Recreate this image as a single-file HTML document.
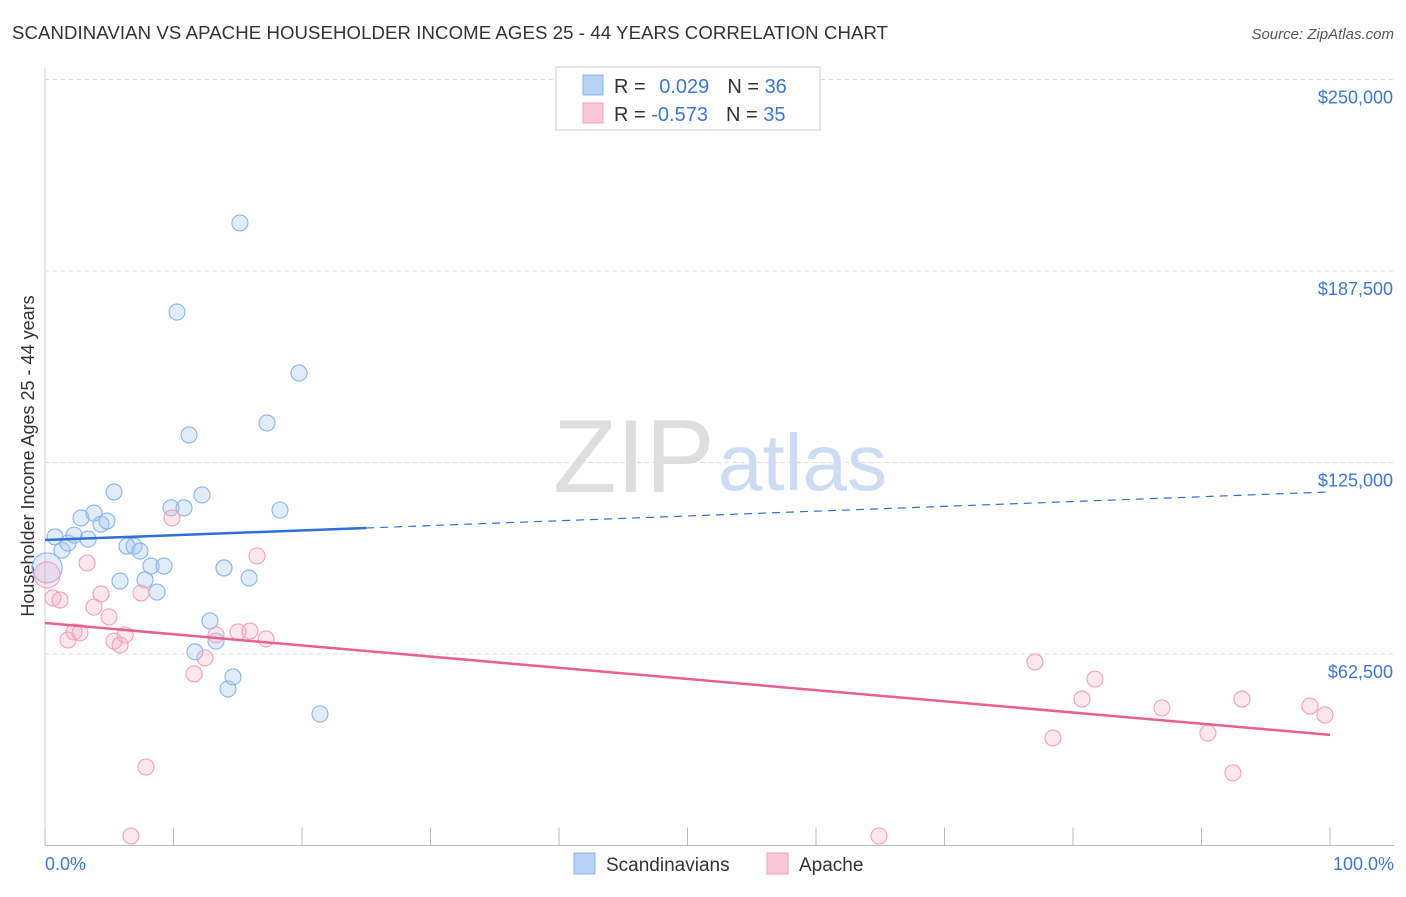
<!DOCTYPE html>
<html><head><meta charset="utf-8"><style>
body{margin:0;background:#fff;font-family:"Liberation Sans",sans-serif;}
svg text{font-family:"Liberation Sans",sans-serif;}
</style></head><body>
<svg id="chart" width="1406" height="892">
<text x="12" y="39" font-size="18.6" fill="#333" textLength="876">SCANDINAVIAN VS APACHE HOUSEHOLDER INCOME AGES 25 - 44 YEARS CORRELATION CHART</text>
<text x="1394" y="39" font-size="15" fill="#555" font-style="italic" text-anchor="end">Source: ZipAtlas.com</text>
<g id="grid"></g>
<text x="553" y="492" font-size="104" fill="#dedede" font-family="Liberation Serif">ZIP</text>
<text x="718" y="490" font-size="80" fill="#cddcf2">atlas</text>
<text transform="translate(34,456) rotate(-90)" font-size="18" fill="#333" text-anchor="middle">Householder Income Ages 25 - 44 years</text>
<text x="45" y="870" font-size="18" fill="#3a78d8">0.0%</text>
<text x="1394" y="870" font-size="18" fill="#3a78d8" text-anchor="end">100.0%</text>
<g id="marks"></g>
<g>
<rect x="556" y="67" width="264" height="63" fill="#fff" stroke="#ccc"/>
<rect x="583" y="75" width="20" height="20" fill="#b8d2f5" stroke="#8ab4e8"/>
<rect x="583" y="103" width="20" height="20" fill="#f9c8d8" stroke="#f0a0bc"/>
<text x="614" y="93" font-size="20" fill="#333">R = <tspan fill="#3a78d8" dx="8">0.029</tspan><tspan dx="18" fill="#333">N = </tspan><tspan fill="#3a78d8">36</tspan></text>
<text x="614" y="121" font-size="20" fill="#333">R = <tspan fill="#3a78d8">-0.573</tspan><tspan dx="18" fill="#333">N = </tspan><tspan fill="#3a78d8">35</tspan></text>
</g>
<g>
<rect x="574" y="853" width="21" height="21" fill="#b8d2f5" stroke="#8ab4e8"/>
<text x="606" y="871" font-size="19" fill="#333">Scandinavians</text>
<rect x="767" y="853" width="21" height="21" fill="#f9c8d8" stroke="#f0a0bc"/>
<text x="799" y="871" font-size="19" fill="#333">Apache</text>
</g>
</svg>
<script>
const yTicks=[62.5,125,187.5,250];
const yTickLabels=["$62,500","$125,000","$187,500","$250,000"];
const xTicks=[0,10,20,30,40,50,60,70,80,90,100];
const blueX=[0.16,0.78,1.32,1.79,2.26,2.80,3.35,3.81,4.36,4.82,5.37,5.84,6.38,6.93,7.39,7.78,8.25,8.72,9.26,9.81,10.27,10.82,11.21,12.22,11.67,12.84,13.31,13.93,14.24,14.63,15.17,15.88,17.28,18.29,19.77,21.40];
const blueY=[90.6,100.7,96.4,98.7,101.3,106.9,100.0,108.5,104.9,105.9,115.4,86.3,97.7,97.7,96.1,86.7,91.2,82.7,91.2,110.2,174.1,110.2,134.0,114.4,63.2,73.3,66.7,90.6,51.1,55.0,203.2,87.3,137.9,109.5,154.2,42.9];
const pinkX=[0.16,0.62,1.17,1.79,2.26,2.72,3.27,3.81,4.36,4.98,5.37,5.84,6.23,6.69,7.47,7.86,9.88,11.60,12.45,13.31,15.02,15.95,16.50,17.20,64.90,77.04,78.44,80.70,81.71,86.92,90.50,92.45,93.15,98.44,99.61];
const pinkY=[88.3,80.8,80.1,67.1,69.7,69.4,92.2,77.8,82.1,74.6,66.7,65.4,68.7,3.1,82.4,25.6,106.9,56.0,61.2,68.7,69.7,70.0,94.5,67.4,3.1,59.9,35.1,47.8,54.3,44.9,36.7,23.7,47.8,45.5,42.6];
const blueTrend=[99.7,115.4];
const pinkTrend=[72.6,36.1];
const sx=v=>45+v*12.85;
const sy=v=>845.5-v*3.064;
const NS="http://www.w3.org/2000/svg";
function mk(tag,attrs,parent){const e=document.createElementNS(NS,tag);for(const k in attrs)e.setAttribute(k,attrs[k]);parent.appendChild(e);return e;}
const grid=document.getElementById('grid');
const marks=document.getElementById('marks');
mk('line',{x1:45,x2:1394,y1:sy(0),y2:sy(0),stroke:'#bbb'},grid);
mk('line',{x1:45,x2:45,y1:68,y2:sy(0),stroke:'#ccc'},grid);
yTicks.forEach((t,i)=>{
 const l=mk('line',{x1:45,x2:1394,y1:sy(t),y2:sy(t),stroke:'#ddd','stroke-dasharray':'4,4'},grid);
 
 
 const tx=mk('text',{x:1393,y:sy(t)+24,'font-size':18,fill:'#3a78d8','text-anchor':'end'},grid);
 tx.textContent=yTickLabels[i];
 
 
});
xTicks.forEach(t=>{
 const l=mk('line',{x1:sx(t),x2:sx(t),y1:sy(0),y2:sy(0)-18,stroke:'#bbb'},grid);
 
 
});
blueX.forEach((x,i)=>{
 const c=mk('circle',{cx:sx(x),cy:sy(blueY[i]),r:i===0?15:8,fill:'rgba(170,200,240,0.35)',stroke:'#8ab4e8','stroke-width':1.1},marks);
 
 
});
pinkX.forEach((x,i)=>{
 const c=mk('circle',{cx:sx(x),cy:sy(pinkY[i]),r:i===0?13:8,fill:'rgba(245,175,200,0.3)',stroke:'#f0a0bc','stroke-width':1.1},marks);
 
 
});
const bAt=x=>blueTrend[0]+(blueTrend[1]-blueTrend[0])*x/100;
const pAt=x=>pinkTrend[0]+(pinkTrend[1]-pinkTrend[0])*x/100;
let l=mk('line',{x1:sx(0),y1:sy(bAt(0)),x2:sx(25),y2:sy(bAt(25)),stroke:'#2f6fd6','stroke-width':2.5},marks);


l=mk('line',{x1:sx(25),y1:sy(bAt(25)),x2:sx(100),y2:sy(bAt(100)),stroke:'#2f6fd6','stroke-width':1.2,'stroke-dasharray':'8,6'},marks);


l=mk('line',{x1:sx(0),y1:sy(pAt(0)),x2:sx(100),y2:sy(pAt(100)),stroke:'#e8608e','stroke-width':2.5},marks);


</script>
</body></html>
